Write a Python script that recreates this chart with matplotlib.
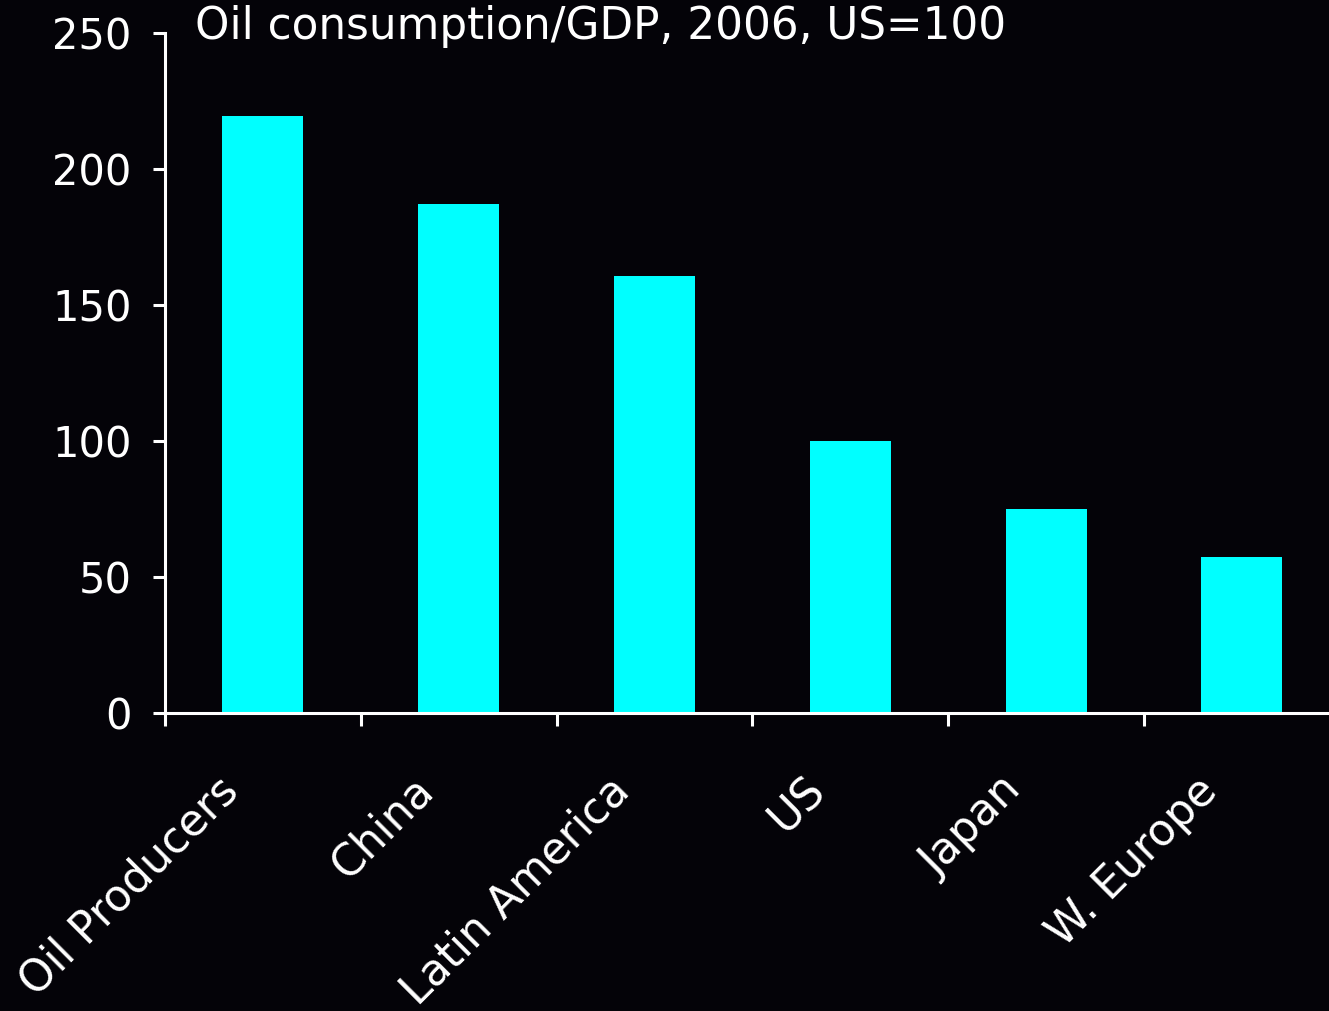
import matplotlib
matplotlib.use("Agg")
import numpy as np
import matplotlib.pyplot as plt
import matplotlib.transforms as mtransforms

# Data
CATEGORIES = ["Oil Producers", "China", "Latin America", "US", "Japan", "W. Europe"]
VALUES = [219.5, 187, 160.5, 100, 75, 57.5]  # Oil consumption/GDP, 2006, US=100
Y_TICKS = [0, 50, 100, 150, 200, 250]
TITLE = "Oil consumption/GDP, 2006, US=100"

BG = "#040308"
BAR_COLOR = "#00FFFF"
FG = "white"

W, H, DPI = 1329, 1011, 100

plt.rcParams["font.family"] = ["DejaVu Sans"]

fig = plt.figure(figsize=(W / DPI, H / DPI), dpi=DPI, facecolor=BG)
# axes placed so that the spines sit where they do in the reference
left_px, bottom_px, top_px = 165, 713, 33
step_px = 195.8
ax = fig.add_axes([left_px / W, (H - bottom_px) / H,
                   (W - left_px) / W, (bottom_px - top_px) / H])
ax.set_facecolor(BG)

x = np.arange(len(CATEGORIES)) + 0.5
ax.bar(x, VALUES, width=0.414, color=BAR_COLOR, edgecolor="none")

ax.set_xlim(0, (W - left_px) / step_px)
ax.set_ylim(0, 250)

for side in ["top", "right"]:
    ax.spines[side].set_visible(False)
for side in ["left", "bottom"]:
    ax.spines[side].set_color(FG)
    ax.spines[side].set_linewidth(2.2)

ax.set_yticks(Y_TICKS)
ax.set_yticklabels([str(v) for v in Y_TICKS])
ax.set_xticks(np.arange(len(CATEGORIES)))
ax.set_xticklabels([])
ax.tick_params(axis="both", colors=FG, width=2.2, length=9, direction="out")
ax.tick_params(axis="y", labelsize=30, pad=15)

# category labels, rotated, top-right corner just left of the category centre
offset = mtransforms.offset_copy(ax.get_xaxis_transform(), fig=fig,
                                 x=-12, y=-40, units="points")
for xi, name in zip(x, CATEGORIES):
    ax.text(xi, 0, name, transform=offset, rotation=45, ha="right", va="top",
            fontsize=31.5, color=FG)

fig.text(195 / W, 1 - 5 / H, TITLE, ha="left", va="top", fontsize=31.5, color=FG)

fig.savefig("out.png", dpi=DPI, facecolor=BG)
